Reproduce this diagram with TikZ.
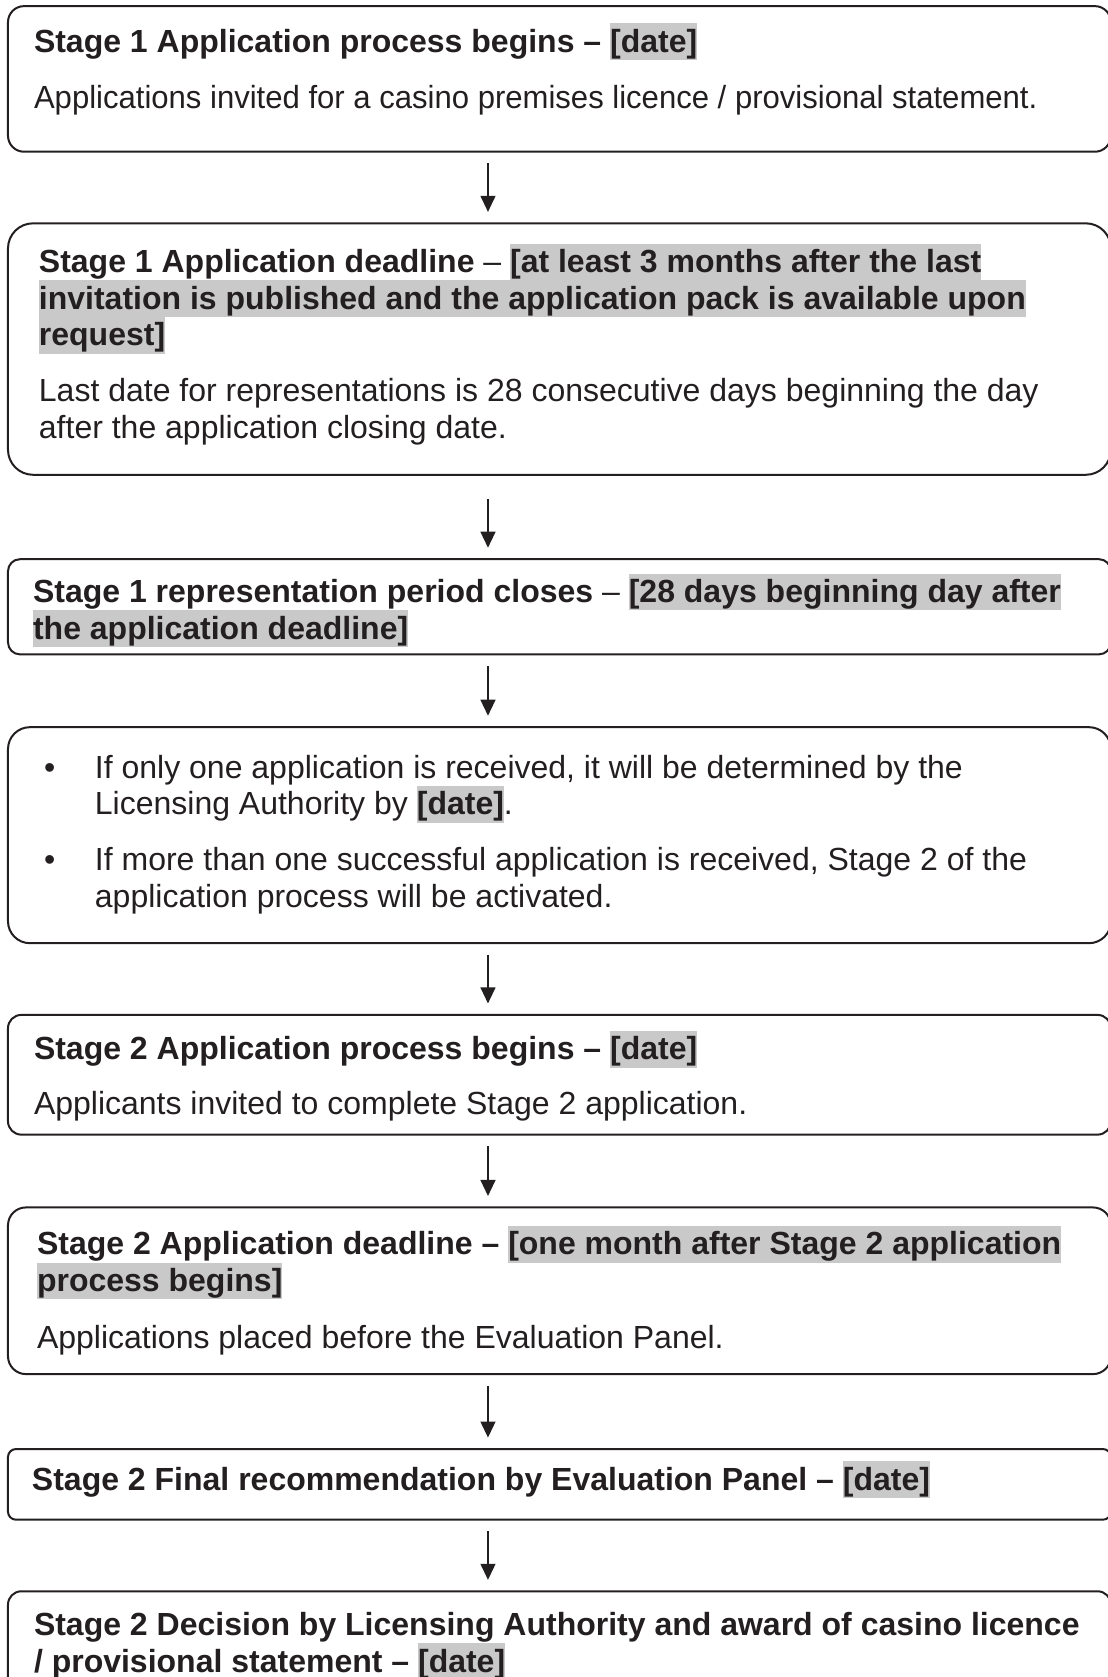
\documentclass[tikz,border=0pt]{standalone}
\usepackage{fontspec}
\setmainfont{Liberation Sans}
\usepackage{xcolor}
\usepackage{tikz}
\usetikzlibrary{arrows.meta, positioning}
\definecolor{StageInk}{HTML}{231F20}
\definecolor{StageMark}{HTML}{C9C9C9}
\newcommand{\hl}[1]{{\setlength{\fboxsep}{0pt}\colorbox{StageMark}{\rule[-3pt]{0pt}{13.8pt}#1}}}
\newcommand{\bul}{\makebox[19.1pt][l]{\textbullet}}
\newcommand{\bulgap}{\hspace*{19.1pt}}

\begin{document}
\begin{tikzpicture}[node distance=27pt, every node/.style={font=\fontsize{12}{13.8}\selectfont, text=StageInk}]
      \tikzset{
        stagebox/.style={rectangle, draw=StageInk, line width=0.75pt, minimum width=413.6pt, inner sep=0pt, outer sep=0pt},
        txt/.style={anchor=north west, align=left, inner sep=0pt, outer sep=0pt, execute at begin node={\rule{0pt}{10.8pt}}},
        line/.style={-{Triangle[length=6pt, width=5.6pt]}, line width=0.55pt, color=StageInk, shorten <=4.3pt, shorten >=4.3pt}
      }
      \useasboundingbox (0,0) rectangle (415.5pt,-628.9pt);
      \clip (0,0) rectangle (415.5pt,-628.9pt);

      % Boxes
      \node[stagebox, rounded corners=6pt, minimum height=54.6pt, anchor=north west] (s1begin) at (3pt,-2.3pt) {};
      \node[stagebox, rounded corners=9.4pt, minimum height=94.3pt, below=26.85pt of s1begin] (s1deadline) {};
      \node[stagebox, rounded corners=4.5pt, minimum height=35.7pt, below=31.65pt of s1deadline] (s1closes) {};
      \node[stagebox, rounded corners=8.2pt, minimum height=81pt, below=27.3pt of s1closes] (s1outcome) {};
      \node[stagebox, rounded corners=5pt, minimum height=44.9pt, below=26.9pt of s1outcome] (s2begin) {};
      \node[stagebox, rounded corners=6.7pt, minimum height=62.5pt, below=27.3pt of s2begin] (s2deadline) {};
      \node[stagebox, rounded corners=3pt, minimum height=26.5pt, below=28.1pt of s2deadline] (s2panel) {};
      \node[stagebox, rounded corners=5pt, minimum height=45pt, below=26.85pt of s2panel] (s2decision) {};

      % Texts
      \node[txt] (t1) at ([shift={(9.75pt,-6.45pt)}]s1begin.north west)
        {\textbf{Stage 1 Application process begins – \hl{[date]}}\\[7.2pt]
         \scalebox{0.971}[1]{Applications invited for a casino premises licence / provisional statement.}};
      \node[txt] (t2) at ([shift={(11.6pt,-7.6pt)}]s1deadline.north west)
        {\textbf{Stage 1 Application deadline} – \textbf{\hl{[at least 3 months after the last}}\\
         \textbf{\hl{invitation is published and the application pack is available upon}}\\
         \textbf{\hl{request]}}\\[7.1pt]
         Last date for representations is 28 consecutive days beginning the day\\
         after the application closing date.};
      \node[txt] (t3) at ([shift={(9.4pt,-5.4pt)}]s1closes.north west)
        {\textbf{Stage 1 representation period closes} – \textbf{\hl{[28 days beginning day after}}\\
         \textbf{\hl{the application deadline]}}};
      \node[txt] (t4) at ([shift={(13.5pt,-10.4pt)}]s1outcome.north west)
        {\bul If only one application is received, it will be determined by the\\
         \bulgap Licensing Authority by \textbf{\hl{[date]}}.\\[7.1pt]
         \bul If more than one successful application is received, Stage 2 of the\\
         \bulgap application process will be activated.};
      \node[txt] (t5) at ([shift={(9.75pt,-6.1pt)}]s2begin.north west)
        {\textbf{Stage 2 Application process begins – \hl{[date]}}\\[6.8pt]
         Applicants invited to complete Stage 2 application.};
      \node[txt] (t6) at ([shift={(10.9pt,-6.9pt)}]s2deadline.north west)
        {\textbf{Stage 2 Application deadline – \hl{[one month after Stage 2 application}}\\
         \textbf{\hl{process begins]}}\\[7.5pt]
         Applications placed before the Evaluation Panel.};
      \node[txt] (t7) at ([shift={(9pt,-4.6pt)}]s2panel.north west)
        {\textbf{Stage 2 Final recommendation by Evaluation Panel – \hl{[date]}}};
      \node[txt] (t8) at ([shift={(9.75pt,-7.8pt)}]s2decision.north west)
        {\textbf{Stage 2 Decision by Licensing Authority and award of casino licence}\\
         \textbf{/ provisional statement – \hl{[date]}}};

      % Connections
      \draw[line] ([xshift=-26.8pt]s1begin.south) -- ([xshift=-26.8pt]s1deadline.north);
      \draw[line, shorten <=9pt] ([xshift=-26.8pt]s1deadline.south) -- ([xshift=-26.8pt]s1closes.north);
      \draw[line] ([xshift=-26.8pt]s1closes.south) -- ([xshift=-26.8pt]s1outcome.north);
      \draw[line] ([xshift=-26.8pt]s1outcome.south) -- ([xshift=-26.8pt]s2begin.north);
      \draw[line] ([xshift=-26.8pt]s2begin.south) -- ([xshift=-26.8pt]s2deadline.north);
      \draw[line] ([xshift=-26.8pt]s2deadline.south) -- ([xshift=-26.8pt]s2panel.north);
      \draw[line] ([xshift=-26.8pt]s2panel.south) -- ([xshift=-26.8pt]s2decision.north);

    \end{tikzpicture}
\end{document}
